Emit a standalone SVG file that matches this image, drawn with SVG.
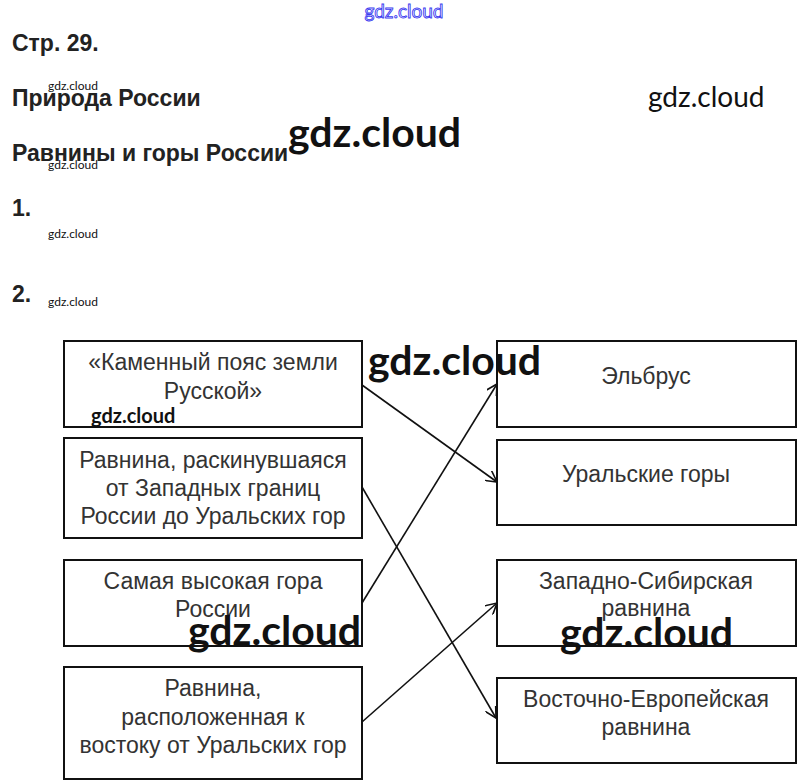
<svg xmlns="http://www.w3.org/2000/svg" width="809" height="782" viewBox="0 0 809 782">
<style>
.h{font-family:"Liberation Sans",Arial,sans-serif;font-weight:bold;font-size:23px;fill:#222}
.box{fill:#fff;stroke:#111;stroke-width:2}
.t{font-family:"Liberation Sans",Arial,sans-serif;font-size:23px;fill:#333;text-anchor:middle}
.wm{font-family:Lato,"Open Sans",sans-serif;fill:#111}
.wms{font-size:12px}
.wmb{font-size:41px;font-weight:bold}
.con{fill:none;stroke:#111;stroke-width:1.6}
</style>
<defs>
<marker id="arr" viewBox="0 0 12 12" refX="11" refY="6" markerWidth="12" markerHeight="12" markerUnits="userSpaceOnUse" orient="auto">
<path d="M0,0 L11,6 L0,12" fill="none" stroke="#111" stroke-width="1.6"/>
</marker>
</defs>
<rect width="809" height="782" fill="#fff"/>
<text x="404" y="18" text-anchor="middle" style="font-family:Lato,sans-serif;font-size:19px;fill:#fff;stroke:#3a3af0;stroke-width:0.9">gdz.cloud</text>
<text class="h" x="12" y="51">Стр. 29.</text>
<text class="h" x="12" y="106">Природа России</text>
<text class="h" x="12" y="161">Равнины и горы России</text>
<text class="h" x="12" y="216">1.</text>
<text class="h" x="12" y="302">2.</text>

<g id="left1"><rect class="box" x="64" y="341" width="298" height="86"/><text class="t" x="213" y="370">«Каменный пояс земли</text><text class="t" x="213" y="399">Русской»</text></g>
<g id="left2"><rect class="box" x="64" y="438" width="298" height="100"/><text class="t" x="213" y="468">Равнина, раскинувшаяся</text><text class="t" x="213" y="496">от Западных границ</text><text class="t" x="213" y="524">России до Уральских гор</text></g>
<g id="left3"><rect class="box" x="64" y="560" width="298" height="86"/><text class="t" x="213" y="589">Самая высокая гора</text><text class="t" x="213" y="617">России</text></g>
<g id="left4"><rect class="box" x="64" y="667" width="298" height="112"/><text class="t" x="213" y="696">Равнина,</text><text class="t" x="213" y="725">расположенная к</text><text class="t" x="213" y="753">востоку от Уральских гор</text></g>

<g id="right1"><rect class="box" x="497" y="341" width="299" height="86"/><text class="t" x="646" y="384">Эльбрус</text></g>
<g id="right2"><rect class="box" x="497" y="440" width="299" height="85"/><text class="t" x="646" y="482">Уральские горы</text></g>
<g id="right3"><rect class="box" x="497" y="560" width="299" height="86"/><text class="t" x="646" y="589">Западно-Сибирская</text><text class="t" x="646" y="616">равнина</text></g>
<g id="right4"><rect class="box" x="497" y="678" width="299" height="85"/><text class="t" x="646" y="707">Восточно-Европейская</text><text class="t" x="646" y="735">равнина</text></g>

<g id="connectors">
<line class="con" x1="362" y1="385" x2="497" y2="482" marker-end="url(#arr)"/>
<line class="con" x1="362" y1="487" x2="496" y2="718" marker-end="url(#arr)"/>
<line class="con" x1="362" y1="603" x2="497" y2="384" marker-end="url(#arr)"/>
<line class="con" x1="362" y1="722" x2="497" y2="603" marker-end="url(#arr)"/>
</g>

<g id="watermarks">
<text class="wm wms" x="48" y="90">gdz.cloud</text>
<text class="wm wms" x="48" y="169">gdz.cloud</text>
<text class="wm wms" x="48" y="238">gdz.cloud</text>
<text class="wm wms" x="48" y="306">gdz.cloud</text>
<text class="wm wmb" x="288" y="147">gdz.cloud</text>
<text class="wm" x="648" y="107" style="font-size:28px">gdz.cloud</text>
<text class="wm" x="91" y="423" style="font-size:20px;font-weight:bold">gdz.cloud</text>
<text class="wm wmb" x="368" y="375">gdz.cloud</text>
<text class="wm wmb" x="188" y="645">gdz.cloud</text>
<text class="wm wmb" x="560" y="647">gdz.cloud</text>
</g>
</svg>
